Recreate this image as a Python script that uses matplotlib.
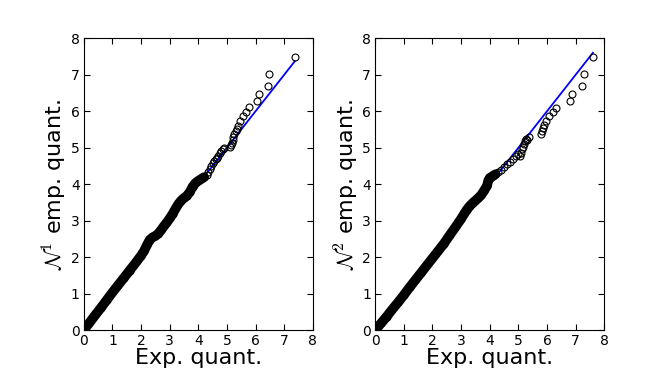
#!/usr/bin/env python3
"""
QQ plots of empirical quantiles against exponential quantiles.
"""

import matplotlib
matplotlib.use('Agg')
import matplotlib.pyplot as plt

plt.rcParams['mathtext.fontset'] = 'cm'
plt.rcParams['font.family'] = 'DejaVu Sans'

# Panel 1: dense part (drawn as a solid band) and sparse upper tail
n1_dense_x = [0.0, 0.2, 0.4, 0.6, 0.8, 1.0, 1.2, 1.4, 1.6, 1.8, 2.0, 2.1, 2.2,
              2.3, 2.4, 2.5, 2.6, 2.7, 2.8, 2.9, 3.0, 3.1, 3.2, 3.3, 3.4, 3.5,
              3.6, 3.7, 3.8, 3.9, 4.0, 4.1, 4.2]
n1_dense_y = [0.0, 0.2, 0.41, 0.61, 0.82, 1.03, 1.23, 1.43, 1.63, 1.83, 2.04,
              2.16, 2.32, 2.47, 2.54, 2.58, 2.64, 2.74, 2.85, 2.95, 3.06, 3.18,
              3.32, 3.45, 3.55, 3.62, 3.68, 3.78, 3.93, 4.03, 4.09, 4.14, 4.19]
n1_tail_x = [4.3, 4.35, 4.4, 4.45, 4.5, 4.55, 4.6, 4.65, 4.7, 4.75, 4.8, 4.85,
             4.9, 5.1, 5.15, 5.18, 5.2, 5.22, 5.25, 5.3, 5.35, 5.4, 5.47, 5.57,
             5.66, 5.76, 6.06, 6.11, 6.43, 6.46, 7.37]
n1_tail_y = [4.25, 4.33, 4.42, 4.5, 4.57, 4.63, 4.68, 4.72, 4.78, 4.85, 4.9,
             4.95, 5.0, 5.02, 5.06, 5.12, 5.2, 5.3, 5.38, 5.45, 5.52, 5.6, 5.73,
             5.86, 5.98, 6.11, 6.28, 6.46, 6.70, 7.01, 7.48]
n1_line_x = [0.0, 7.37]
n1_line_y = [0.0, 7.37]

# Panel 2
n2_dense_x = [0.0, 0.2, 0.4, 0.6, 0.8, 1.0, 1.2, 1.4, 1.6, 1.8, 2.0, 2.2, 2.4,
              2.6, 2.8, 3.0, 3.1, 3.2, 3.3, 3.4, 3.5, 3.6, 3.7, 3.8, 3.9, 3.95,
              4.0, 4.1, 4.2]
n2_dense_y = [0.0, 0.18, 0.37, 0.57, 0.76, 0.96, 1.17, 1.37, 1.57, 1.77, 1.97,
              2.17, 2.37, 2.6, 2.82, 3.05, 3.18, 3.3, 3.4, 3.48, 3.55, 3.62,
              3.7, 3.82, 3.95, 4.1, 4.17, 4.22, 4.27]
n2_tail_x = [4.3, 4.4, 4.5, 4.6, 4.7, 4.8, 4.9, 5.0, 5.05, 5.1, 5.12, 5.15,
             5.18, 5.22, 5.26, 5.3, 5.38, 5.8, 5.82, 5.85, 5.88, 5.97, 6.08,
             6.2, 6.31, 6.81, 6.87, 7.22, 7.28, 7.59]
n2_tail_y = [4.33, 4.4, 4.47, 4.55, 4.62, 4.7, 4.78, 4.83, 4.78, 4.86, 4.95,
             5.02, 5.1, 5.17, 5.24, 5.2, 5.3, 5.37, 5.45, 5.55, 5.62, 5.73,
             5.86, 5.98, 6.1, 6.27, 6.46, 6.69, 7.01, 7.48]
n2_line_x = [0.0, 7.6]
n2_line_y = [0.0, 7.6]

panels = [
    (n1_dense_x, n1_dense_y, n1_tail_x, n1_tail_y, n1_line_x, n1_line_y,
     r'$\mathcal{N}^1$ emp. quant.'),
    (n2_dense_x, n2_dense_y, n2_tail_x, n2_tail_y, n2_line_x, n2_line_y,
     r'$\mathcal{N}^2$ emp. quant.'),
]

fig = plt.figure(figsize=(6.7, 3.82), dpi=100)
positions = [[0.125, 0.136, 0.342, 0.764], [0.56, 0.136, 0.342, 0.764]]

for pos, (dx, dy, tx, ty, lx, ly, ylabel) in zip(positions, panels):
    ax = fig.add_axes(pos)
    ax.plot(lx, ly, color='#0000ff', lw=1.3, zorder=1)
    # dense region: overlapping markers form a solid band
    ax.plot(dx, dy, color='k', lw=7, solid_capstyle='round', zorder=2)
    ax.plot(dx, dy, 'o', mfc='none', mec='k', ms=5, mew=0.8, zorder=2)
    ax.plot(tx, ty, 'o', mfc='none', mec='k', ms=5, mew=0.8, zorder=2)

    ax.set_xlim(0, 8)
    ax.set_ylim(0, 8)
    ax.set_xticks(range(9))
    ax.set_yticks(range(9))
    ax.tick_params(direction='in', top=True, right=True, length=4,
                   labelsize=10, pad=3)
    ax.set_xlabel('Exp. quant.', fontsize=16, labelpad=0)
    ax.set_ylabel(ylabel, fontsize=16, labelpad=1)

plt.savefig('out.png', dpi=100)
